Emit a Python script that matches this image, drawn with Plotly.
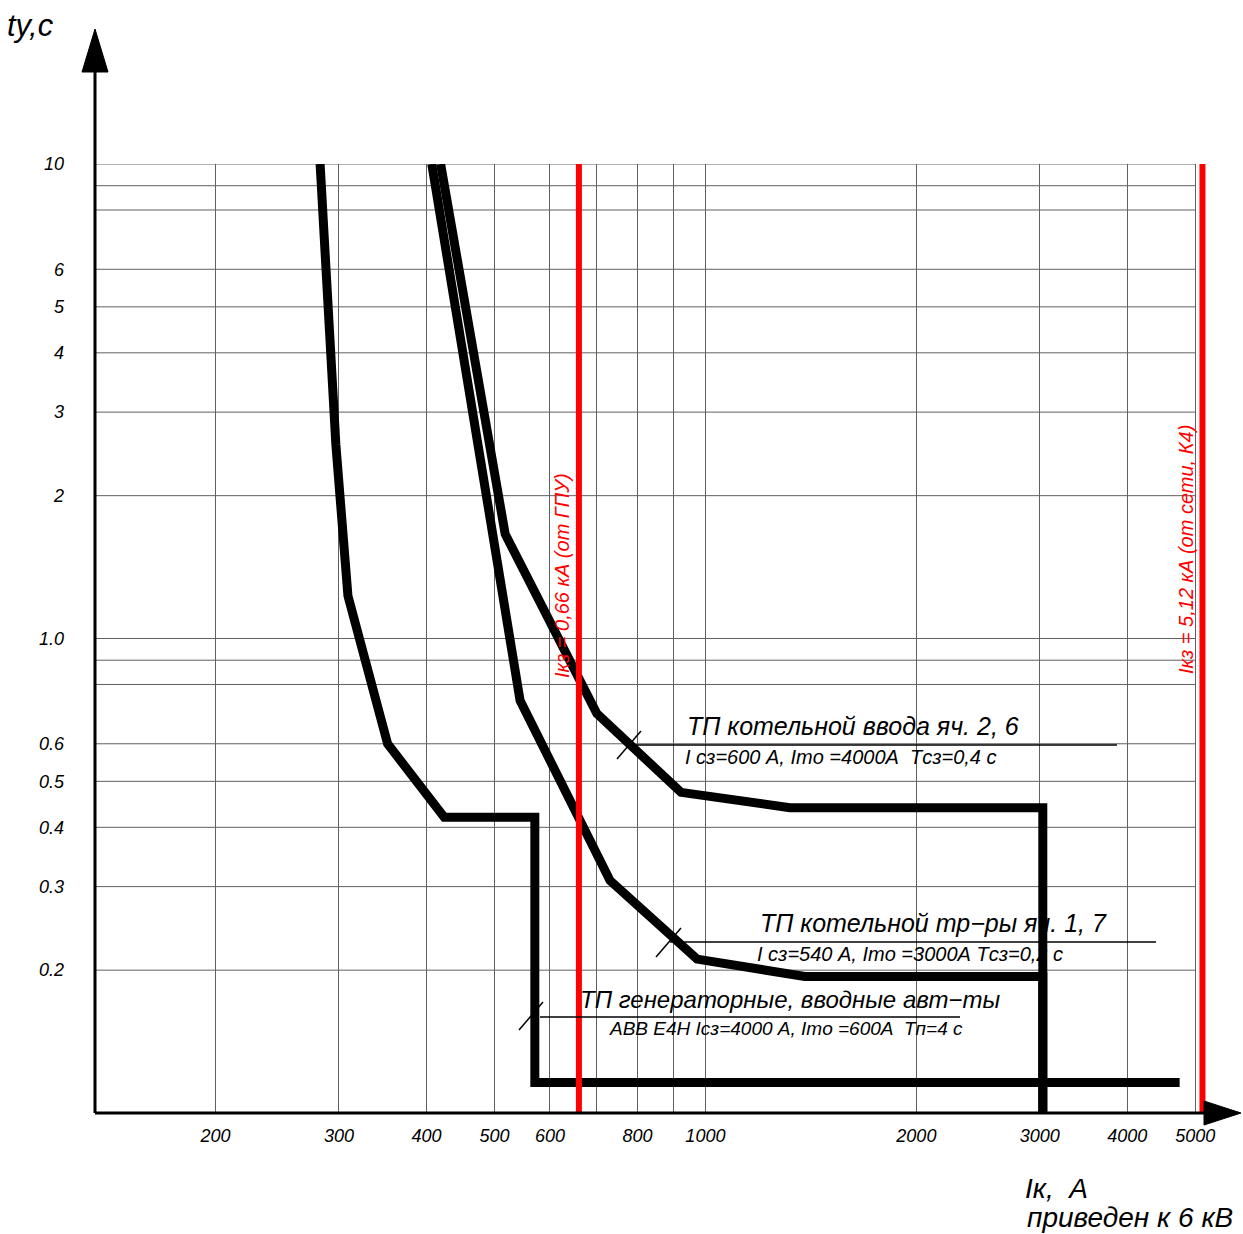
import numpy as np
import plotly.graph_objects as go

# ---------------- data (current in A, time in s) ----------------
gen_current = [282, 297, 309, 352, 424, 571, 571, 4750]
gen_time = [10, 2.56, 1.23, 0.60, 0.42, 0.42, 0.116, 0.116]

vvod_current = [419, 518, 700, 923, 1320, 3030, 3030]
vvod_time = [10, 1.66, 0.695, 0.474, 0.44, 0.44, 0.1]

tr_current = [407, 544, 731, 973, 1386, 3030, 3030]
tr_time = [10, 0.74, 0.309, 0.211, 0.194, 0.194, 0.1]

fault_currents = [660, 5120]
fault_labels = ["Iкз = 0,66 кА (от ГПУ)", "Iкз = 5,12 кА (от сети, К4)"]
fault_label_time = [1.36, 1.54]

x_tickvals = [200, 300, 400, 500, 600, 700, 800, 900, 1000, 2000, 3000, 4000, 5000]
x_ticktext = ["200", "300", "400", "500", "600", "", "800", "", "1000", "2000", "3000", "4000", "5000"]
y_tickvals = [0.2, 0.3, 0.4, 0.5, 0.6, 0.8, 0.9, 1, 2, 3, 4, 5, 6, 8, 9, 10]
y_ticktext = ["0.2", "0.3", "0.4", "0.5", "0.6", "", "", "1.0", "2", "3", "4", "5", "6", "", "", "10"]

# ---------------- layout constants ----------------
FONT = "Liberation Sans, Arial, sans-serif"
W, H = 1243, 1234
L, R, T, B = 95, 3, 164, 121
X_MIN, X_MAX = 134.6, 5792
Y_MIN, Y_MAX = 0.1, 10
GRID = "#606060"


def PX(x):
    return (x - L) / (W - L - R)


def PY(y):
    return (H - B - y) / (H - T - B)


fig = go.Figure()

for cur, t in [(gen_current, gen_time), (vvod_current, vvod_time), (tr_current, tr_time)]:
    fig.add_trace(go.Scatter(x=cur, y=t, mode="lines",
                             line=dict(color="black", width=9),
                             hoverinfo="skip", showlegend=False))

for fc in fault_currents:
    fig.add_trace(go.Scatter(x=[fc, fc], y=[Y_MIN, Y_MAX], mode="lines",
                             line=dict(color="#ff0000", width=6),
                             hoverinfo="skip", showlegend=False))

shapes = []
# horizontal grid lines stop at the last current grid line
for v in y_tickvals:
    shapes.append(dict(type="line", xref="x", yref="y", x0=X_MIN, x1=x_tickvals[-1],
                       y0=v, y1=v, line=dict(color=GRID, width=1), layer="below"))
# axes with arrows
shapes += [
    dict(type="line", xref="paper", yref="paper", x0=0, y0=0, x1=0, y1=PY(70),
         line=dict(color="black", width=3)),
    dict(type="line", xref="paper", yref="paper", x0=0, y0=0, x1=PX(1206), y1=0,
         line=dict(color="black", width=3)),
    dict(type="path", xref="paper", yref="paper",
         path=f"M {PX(82)} {PY(72)} L {PX(95)} {PY(29)} L {PX(108)} {PY(72)} Z",
         fillcolor="black", line=dict(color="black", width=1)),
    dict(type="path", xref="paper", yref="paper",
         path=f"M {PX(1204)} {PY(1101)} L {PX(1241)} {PY(1113)} L {PX(1204)} {PY(1125)} Z",
         fillcolor="black", line=dict(color="black", width=1)),
]
# leader lines and slashes of the curve labels
leaders = [((628, 745), (1117, 745), (617, 759), (641, 731)),
           ((670, 942), (1156, 942), (656, 957), (681, 928)),
           ((540, 1017), (960, 1017), (519, 1030), (543, 1002))]
for (a, b, s0, s1) in leaders:
    shapes.append(dict(type="line", xref="paper", yref="paper", x0=PX(a[0]), y0=PY(a[1]),
                       x1=PX(b[0]), y1=PY(b[1]), line=dict(color="black", width=1.5)))
    shapes.append(dict(type="line", xref="paper", yref="paper", x0=PX(s0[0]), y0=PY(s0[1]),
                       x1=PX(s1[0]), y1=PY(s1[1]), line=dict(color="black", width=1.5)))

ann = []


def text(x, y, s, size, color="black", anchor="left", angle=0):
    ann.append(dict(xref="paper", yref="paper", x=PX(x), y=PY(y), text=s, showarrow=False,
                    xanchor=anchor, yanchor="middle", textangle=angle, borderpad=0,
                    font=dict(family=FONT, size=size, color=color, style="italic")))


text(686, 726, "ТП котельной ввода яч. 2, 6", 25)
text(684, 757, "I сз=600 А, Imo =4000А  Tсз=0,4 с", 20)
text(759, 923, "ТП котельной тр−ры яч. 1, 7", 25)
text(756, 954, "I сз=540 А, Imo =3000А Tсз=0,2 с", 20)
text(579, 999, "ТП генераторные, вводные авт−ты", 24)
text(608, 1028, "ABB E4H Iсз=4000 А, Imo =600А  Tп=4 с", 19)

text(6, 25, "tу,с", 31)
text(1024, 1188, "Iк,  А", 28)
text(1026, 1217, "приведен к 6 кВ", 28)

for fc, lab, ty in zip(fault_currents, fault_labels, fault_label_time):
    ann.append(dict(xref="x", yref="y", x=np.log10(fc), y=np.log10(ty), xshift=-17,
                    text=lab, showarrow=False, textangle=-90,
                    xanchor="center", yanchor="middle",
                    font=dict(family=FONT, size=20, color="#ff0000", style="italic")))

tickfont = dict(family=FONT, size=18, color="black", style="italic")
fig.update_layout(
    width=W, height=H, autosize=False,
    margin=dict(l=L, r=R, t=T, b=B, pad=0),
    paper_bgcolor="white", plot_bgcolor="white",
    showlegend=False,
    xaxis=dict(type="log", range=[np.log10(X_MIN), np.log10(X_MAX)],
               tickmode="array", tickvals=x_tickvals, ticktext=x_ticktext,
               showgrid=True, gridcolor=GRID, gridwidth=1, zeroline=False,
               showline=False, ticks="", tickfont=tickfont, ticklabelstandoff=10),
    yaxis=dict(type="log", range=[np.log10(Y_MIN), np.log10(Y_MAX)],
               tickmode="array", tickvals=y_tickvals, ticktext=y_ticktext,
               showgrid=False, zeroline=False, showline=False, ticks="",
               tickfont=tickfont, ticklabelstandoff=30),
    shapes=shapes,
    annotations=ann,
)

fig.write_html("out.html", config={"displayModeBar": False},
               post_script="document.body.style.margin='0px';document.body.style.overflow='hidden';")
